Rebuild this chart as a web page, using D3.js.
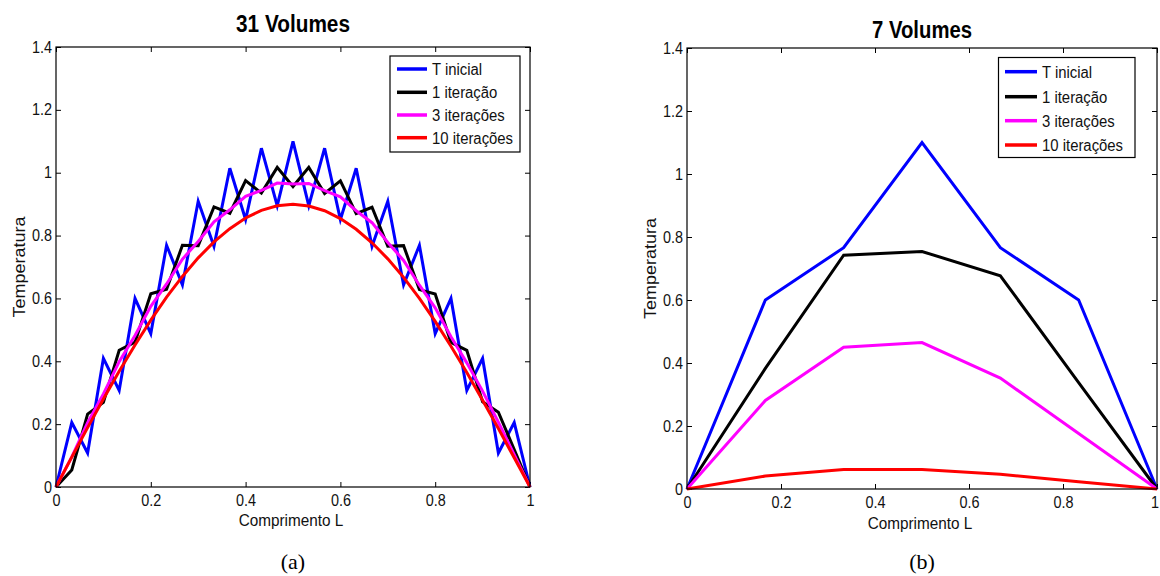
<!DOCTYPE html>
<html>
<head>
<meta charset="utf-8">
<script src="https://cdn.jsdelivr.net/npm/d3@7"></script>
<style>
  body { margin: 0; background: #fff; }
</style>
</head>
<body>
<div id="container"></div>
<script>
/* DATA */
const seriesNames = ["T inicial", "1 iteração", "3 iterações", "10 iterações"];
const seriesColors = ["#0000ff", "#000000", "#ff00ff", "#ff0000"];
const yTicks = [0, 0.2, 0.4, 0.6, 0.8, 1, 1.2, 1.4];
const xTicks = [0, 0.2, 0.4, 0.6, 0.8, 1];

// 31 volumes
const x31 = [0, 0.0333, 0.0667, 0.1, 0.1333, 0.1667, 0.2, 0.2333, 0.2667, 0.3, 0.3333,
  0.3667, 0.4, 0.4333, 0.4667, 0.5, 0.5333, 0.5667, 0.6, 0.6333, 0.6667,
  0.7, 0.7333, 0.7667, 0.8, 0.8333, 0.8667, 0.9, 0.9333, 0.9667, 1];
const tInicial31 = [0, 0.205, 0.108, 0.409, 0.307, 0.600, 0.488, 0.769, 0.643, 0.909, 0.766,
  1.014, 0.851, 1.078, 0.895, 1.100, 0.895, 1.078, 0.851, 1.014, 0.766,
  0.909, 0.643, 0.769, 0.488, 0.600, 0.307, 0.409, 0.108, 0.205, 0];
const iter1_31 = [0, 0.054, 0.232, 0.269, 0.435, 0.461, 0.615, 0.629, 0.769, 0.768, 0.891,
  0.871, 0.975, 0.935, 1.017, 0.956, 1.017, 0.934, 0.974, 0.870, 0.890,
  0.766, 0.768, 0.628, 0.614, 0.460, 0.435, 0.271, 0.238, 0.119, 0];
const iter3_31 = [0, 0.096, 0.205, 0.296, 0.399, 0.482, 0.575, 0.646, 0.725, 0.781, 0.844,
  0.882, 0.925, 0.944, 0.967, 0.964, 0.966, 0.943, 0.923, 0.879, 0.841,
  0.778, 0.721, 0.642, 0.570, 0.478, 0.395, 0.305, 0.206, 0.103, 0];
const iter10_31 = [0, 0.095, 0.189, 0.280, 0.368, 0.452, 0.531, 0.604, 0.670, 0.729, 0.780,
  0.822, 0.856, 0.880, 0.895, 0.900, 0.894, 0.879, 0.854, 0.820, 0.777,
  0.726, 0.667, 0.600, 0.527, 0.448, 0.364, 0.276, 0.186, 0.093, 0];

// 7 volumes
const x7 = [0, 0.1667, 0.3333, 0.5, 0.6667, 0.8333, 1];
const tInicial7 = [0, 0.600, 0.766, 1.100, 0.766, 0.600, 0];
const iter1_7 = [0, 0.383, 0.742, 0.754, 0.677, 0.338, 0];
const iter3_7 = [0, 0.281, 0.450, 0.465, 0.352, 0.176, 0];
const iter10_7 = [0, 0.041, 0.062, 0.062, 0.047, 0.023, 0];

/* LAYOUT */
const panels = [
  { left: 56, right: 530, top: 47, bottom: 487,
    title: "31 Volumes", titleY: 32, titleLen: 114,
    xlabY: 526, ylabX: 25, caption: "(a)",
    xs: x31, ys: [tInicial31, iter1_31, iter3_31, iter10_31],
    legend: { x0: 390, x1: 520, y0: 56, y1: 152, rows: [69, 92.3, 115, 137.7], lx0: 397, lx1: 427, tx: 432 } },
  { left: 687, right: 1157, top: 48, bottom: 489,
    title: "7 Volumes", titleY: 37.5, titleLen: 100,
    xlabY: 529, ylabX: 656, caption: "(b)",
    xs: x7, ys: [tInicial7, iter1_7, iter3_7, iter10_7],
    legend: { x0: 998.5, x1: 1135, y0: 57.5, y1: 157.5, rows: [71.7, 96.7, 120.7, 145], lx0: 1005, lx1: 1037, tx: 1042 } }
];

const font = "'Liberation Sans', Arial, Helvetica, sans-serif";

const svg = d3.select("#container")
  .append("svg")
  .attr("width", 1160)
  .attr("height", 576)

svg.append("rect").attr("width", 1160).attr("height", 576).attr("fill", "#fff")

// squeeze text horizontally like the MATLAB export
function condense(sel, k) {
  sel.each(function () {
    const w = this.getComputedTextLength();
    d3.select(this).attr("textLength", w * k).attr("lengthAdjust", "spacingAndGlyphs");
  });
}

panels.forEach(p => {
  const g = svg.append("g")

  const xScale = d3.scaleLinear().domain([0, 1]).range([p.left, p.right])
  const yScale = d3.scaleLinear().domain([0, 1.4]).range([p.bottom, p.top])
  const fmt = d3.format("~g")

  // axes with inward ticks
  const bottom = g.append("g")
    .attr("transform", `translate(0,${p.bottom})`)
    .call(d3.axisBottom(xScale).tickValues(xTicks).tickFormat(fmt).tickSizeInner(-5).tickSizeOuter(0).tickPadding(8))
  const leftAx = g.append("g")
    .attr("transform", `translate(${p.left},0)`)
    .call(d3.axisLeft(yScale).tickValues(yTicks).tickFormat(fmt).tickSizeInner(-5).tickSizeOuter(0).tickPadding(4))
  const topAx = g.append("g")
    .attr("transform", `translate(0,${p.top})`)
    .call(d3.axisTop(xScale).tickValues(xTicks).tickFormat("").tickSizeInner(-5).tickSizeOuter(0))
  const rightAx = g.append("g")
    .attr("transform", `translate(${p.right},0)`)
    .call(d3.axisRight(yScale).tickValues(yTicks).tickFormat("").tickSizeInner(-5).tickSizeOuter(0))

  ;[bottom, leftAx, topAx, rightAx].forEach(a => {
    a.select(".domain").remove()
    a.selectAll("line").attr("stroke", "#000")
    a.selectAll("text").attr("font-family", font).attr("font-size", 16).attr("fill", "#111")
  })
  condense(bottom.selectAll("text"), 0.9)
  condense(leftAx.selectAll("text"), 0.9)
  // keep the last label inside the page edge
  if (p.right > 1150) {
    bottom.selectAll("text").filter(d => d === 1).attr("dx", -2.5)
  }

  // series lines
  const line = d3.line()
    .x((d, i) => xScale(p.xs[i]))
    .y(d => yScale(d))

  p.ys.forEach((vals, k) => {
    g.append("path")
      .datum(vals)
      .attr("d", line)
      .attr("fill", "none")
      .attr("stroke", seriesColors[k])
      .attr("stroke-width", 3)
      .attr("stroke-linejoin", "miter")
  })

  // box
  g.append("rect")
    .attr("x", p.left).attr("y", p.top)
    .attr("width", p.right - p.left).attr("height", p.bottom - p.top)
    .attr("fill", "none").attr("stroke", "#000").attr("stroke-width", 1.2)

  // title and labels
  g.append("text")
    .attr("x", (p.left + p.right) / 2).attr("y", p.titleY)
    .attr("text-anchor", "middle")
    .attr("font-family", font).attr("font-weight", "bold").attr("font-size", 23)
    .attr("textLength", p.titleLen).attr("lengthAdjust", "spacingAndGlyphs")
    .text(p.title)

  const xl = g.append("text")
    .attr("x", (p.left + p.right) / 2 - 2).attr("y", p.xlabY)
    .attr("text-anchor", "middle")
    .attr("font-family", font).attr("font-size", 17).attr("fill", "#111")
    .text("Comprimento L")
  condense(xl, 0.9)

  g.append("text")
    .attr("transform", `translate(${p.ylabX},${(p.top + p.bottom) / 2}) rotate(-90)`)
    .attr("text-anchor", "middle")
    .attr("font-family", font).attr("font-size", 17).attr("fill", "#111")
    .attr("textLength", 101).attr("lengthAdjust", "spacingAndGlyphs")
    .text("Temperatura")

  g.append("text")
    .attr("x", (p.left + p.right) / 2).attr("y", 569)
    .attr("text-anchor", "middle")
    .attr("font-family", "'Liberation Serif', 'Times New Roman', serif").attr("font-size", 22)
    .text(p.caption)

  // legend
  const L = p.legend
  g.append("rect")
    .attr("x", L.x0).attr("y", L.y0)
    .attr("width", L.x1 - L.x0).attr("height", L.y1 - L.y0)
    .attr("fill", "#fff").attr("stroke", "#000").attr("stroke-width", 1.2)

  const rows = g.selectAll(".leg")
    .data(seriesNames)
    .join("g")
    .attr("class", "leg")
    .attr("transform", (d, i) => `translate(0,${L.rows[i]})`)
  rows.append("line")
    .attr("x1", L.lx0).attr("x2", L.lx1)
    .attr("stroke", (d, i) => seriesColors[i]).attr("stroke-width", 3.5)
  const lt = rows.append("text")
    .attr("x", L.tx).attr("y", 5.8)
    .attr("font-family", font).attr("font-size", 16).attr("fill", "#111")
    .text(d => d)
  condense(lt, 0.93)
})
</script>
</body>
</html>
